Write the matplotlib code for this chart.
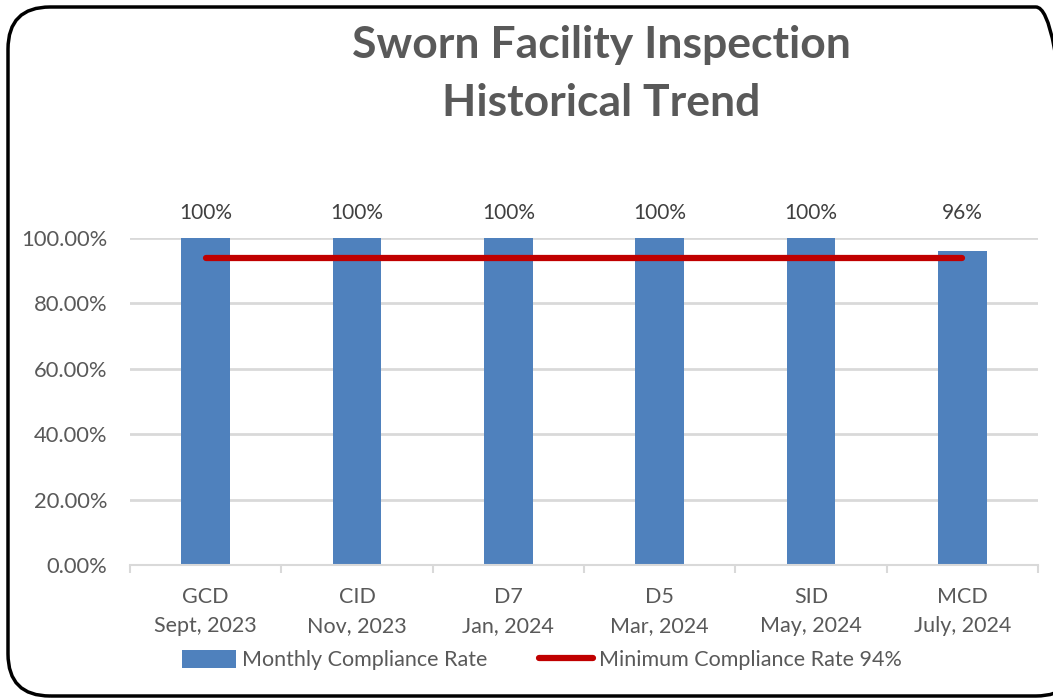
import matplotlib
matplotlib.use("Agg")
import matplotlib.pyplot as plt
from matplotlib.patches import FancyBboxPatch
from matplotlib.ticker import FuncFormatter, FixedLocator

plt.rcParams["font.family"] = ["Lato", "DejaVu Sans"]

categories = ["GCD\nSept, 2023", "CID\nNov, 2023", "D7\nJan, 2024",
              "D5\nMar, 2024", "SID\nMay, 2024", "MCD\nJuly, 2024"]
compliance = [1.00, 1.00, 1.00, 1.00, 1.00, 0.96]
bar_labels = ["100%", "100%", "100%", "100%", "100%", "96%"]
minimum = [0.94] * 6

TXT = "#595959"
GRID = "#d9d9d9"

fig = plt.figure(figsize=(10.53, 6.98), dpi=100)
ax = fig.add_axes([130 / 1053, 1 - 565 / 698, 908 / 1053, 327 / 698])

x = list(range(len(categories)))
bars = ax.bar(x, compliance, width=0.32, color="#4F81BD", zorder=2,
              label="Monthly Compliance Rate")
line, = ax.plot(x, minimum, color="#C00000", lw=4.5, solid_capstyle="round", zorder=3,
                label="Minimum Compliance Rate 94%")
for xi, v, lab in zip(x, compliance, bar_labels):
    ax.text(xi, 1.0 + 0.075, lab, ha="center", va="center", fontsize=15, color="#404040")

ax.set_xlim(-0.5, len(categories) - 0.5)
ax.set_ylim(0, 1.0)
ax.set_yticks([0, 0.2, 0.4, 0.6, 0.8, 1.0])
ax.yaxis.set_major_formatter(FuncFormatter(lambda v, _: f"{v * 100:.2f}%"))
ax.set_xticks(x)
ax.set_xticklabels(categories, fontsize=15.5, color=TXT, linespacing=1.55)
ax.xaxis.set_minor_locator(FixedLocator([i - 0.5 for i in range(len(categories) + 1)]))
ax.tick_params(axis="x", which="major", length=0, pad=16)
ax.tick_params(axis="x", which="minor", length=6, color=GRID, width=1.5)
ax.tick_params(axis="y", length=0, labelsize=15.8, labelcolor=TXT, pad=16.5)
ax.grid(axis="y", color=GRID, lw=2, zorder=0)
ax.set_axisbelow(True)
for s in ["top", "right", "left"]:
    ax.spines[s].set_visible(False)
ax.spines["bottom"].set_color(GRID)
ax.spines["bottom"].set_linewidth(1.5)

fig.text(601 / 1053, 1 - 45 / 698, "Sworn Facility Inspection", ha="center", va="center",
         fontsize=32, fontweight="bold", color=TXT)
fig.text(601 / 1053, 1 - 103 / 698, "Historical Trend", ha="center", va="center",
         fontsize=32, fontweight="bold", color=TXT)

fig.legend([bars, line], ["Monthly Compliance Rate", "Minimum Compliance Rate 94%"],
           loc="center", bbox_to_anchor=(542 / 1053, 1 - 660 / 698), ncol=2, frameon=False,
           fontsize=15.5, labelcolor=TXT, handlelength=2.5, handleheight=0.9,
           columnspacing=2.4, handletextpad=0.3)

border = FancyBboxPatch((8 / 1053, 1 - 696 / 698), 1070 / 1053, 689 / 698,
                        boxstyle="round,pad=0,rounding_size=0.04",
                        transform=fig.transFigure, fill=False, ec="black", lw=2.5,
                        mutation_aspect=1053 / 698, clip_on=False)
fig.patches.append(border)

fig.savefig("out.png", dpi=100)
